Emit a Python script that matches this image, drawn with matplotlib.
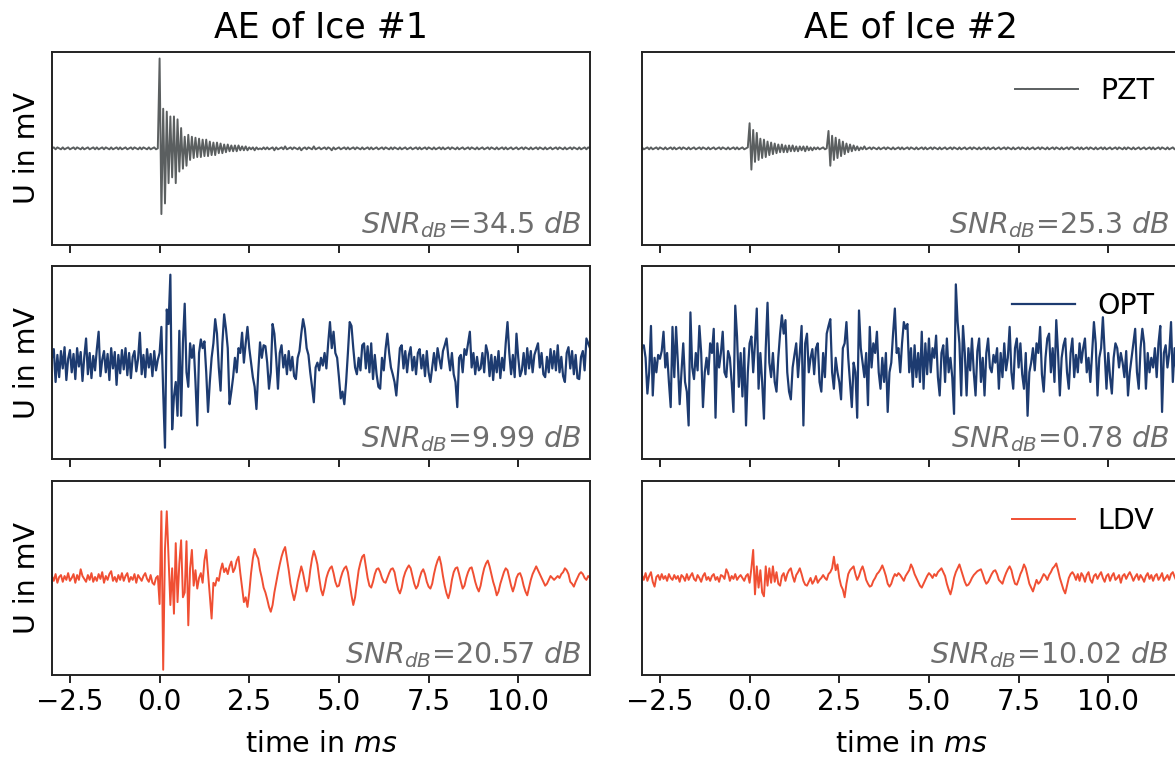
#!/usr/bin/env python3
"""
AE of two ice samples seen by three sensors (PZT, optical, LDV).
Traces are read off the published figure on a 0.05 ms grid, in units of
percent of the half panel height.
"""
import numpy as np
import matplotlib
matplotlib.use("Agg")
import matplotlib.pyplot as plt

T0, DT = -3.0, 0.05          # sampling grid of the traces, ms

PZT_C = "#5b5f60"
OPT_C = "#1d3b70"
LDV_C = "#f04f33"
GREY = "#6e6e6e"
INK = "#222222"

TITLES = ["AE of Ice #1", "AE of Ice #2"]
SENSORS = ["PZT", "OPT", "LDV"]
SNR_ICE1 = ["34.5", "9.99", "20.57"]
SNR_ICE2 = ["25.3", "0.78", "10.02"]

PZT_ICE1 = [
    0, 1, -1, 1, 0, -1, 1, -1, 0, 1, -1, 0, 1, -1, 1, 0, -1, 1, -1, 0,
    1, -1, 0, 1, -1, 1, -1, 0, 1, -1, 1, 0, -1, 1, -1, 0, 1, -1, 1, -1,
    0, 1, -1, 0, 1, -1, 1, 0, -1, 1, -1, 1, 0, -1, 1, -1, 0, 1, -1, 0,
    93, -68, 41, -57, 38, -36, 33, -30, 33, -36, 30, -24, 21, -21, 12, -18, 14, -12, 12, -10,
    11, -9, 10, -9, 9, -8, 9, -8, 7, -7, 6, -7, 6, -5, 5, -5, 4, -4, 4, -3,
    3, -3, 3, -3, 3, -2, 2, -2, 2, -2, 1, -1, 1, -2, 1, -1, 0, -1, 1, -1,
    1, -1, 0, 1, -2, 1, -1, 0, 1, -1, 2, -1, 0, 1, -1, 1, 0, -1, 1, -2,
    0, 1, -1, 1, 0, -1, 2, -1, 0, 1, -1, 0, 1, -1, 1, 0, -2, 1, -1, 0,
    1, -1, 0, 1, -1, 1, -1, 0, 1, -1, 1, 0, -1, 1, -1, 0, 1, -1, 1, -1,
    0, 1, -1, 0, 1, -1, 1, 0, -1, 1, -1, 1, 0, -1, 1, -1, 0, 1, -1, 0,
    1, -1, 0, 1, -1, 1, -1, 0, 1, -1, 1, 0, -1, 1, -1, 0, 1, -1, 1, -1,
    0, 1, -1, 1, 0, -1, 1, -1, 0, 1, -1, 0, 1, -1, 1, 0, -1, 1, -1, 0,
    1, -1, 0, 1, -1, 1, 0, -1, 1, -1, 0, 1, -1, 1, -1, 0, 1, -1, 0, 1,
    -1, 0, 1, -1, 1, 0, -1, 1, -1, 0, 1, -1, 1, 0, -1, 1, -1, 0, 1, -1,
    0, 1, -1, 1, 0, -1, 1, -1, 0, 1, -1, 1, 0, -1, 1, -1, 0, 1, -1, 1,
    0,
]

OPT_ICE1 = [
    5, 14, -20, 8, -15, 12, -6, 16, -18, 4, 13, -10, 9, -17, 15, -4, 11, -19, 6, 25,
    -12, 10, -16, 7, -8, 14, 32, -14, 3, 12, -10, 9, -18, 15, -6, 11, -23, 8, -11, 13,
    -7, 15, -13, 10, -16, 6, 12, -9, 4, 31, -12, 8, -15, 14, -5, 9, -14, 12, -8, 3,
    10, 37, -30, -88, 55, 40, 91, -69, -35, -20, -55, 33, -55, 20, 61, -10, -25, 20, 5, 18,
    -20, -65, 10, 24, 15, 22, -10, -51, -20, 5, 20, 45, 30, -5, -29, 20, 50, 35, 15, -43,
    -30, -15, 5, -10, 15, 10, 31, 0, 20, 37, 15, 0, -15, -25, -48, -10, 21, 5, 18, 17,
    0, -27, -10, 40, 30, 5, -27, 10, 18, -5, 8, -12, 12, -8, 6, -14, -17, 5, 12, 30,
    45, 35, 15, 8, -10, -25, -41, -5, 0, -8, 5, -3, 10, -6, 20, 42, 15, 32, 10, 5,
    -15, -37, -30, -43, -20, 10, 42, 38, 15, -5, -12, 5, -8, 18, 20, -6, 17, -10, 20, -17,
    8, -12, -25, -27, 5, -8, 14, 30, 10, -5, -12, -20, -34, -10, 15, 18, -6, 12, -10, 8,
    16, -8, 6, -12, 10, 14, -6, 8, -14, 12, -10, -20, -5, 10, -8, 15, 4, -6, 12, 18,
    25, 6, -8, 10, -12, -20, -46, 5, 8, -10, 14, 8, 20, 32, -5, 10, -12, 6, -8, -6,
    10, -10, 18, 10, -14, 8, -18, 6, -10, 12, -16, 5, -8, 20, 42, 10, -12, 8, -15, 30,
    5, -14, -8, 10, -12, 15, -6, 12, -10, 8, 14, 20, -5, 10, -12, -15, 6, -10, 14, -6,
    12, -8, 18, -10, 6, -14, -20, 10, 16, -6, 12, -12, 8, -16, -17, 6, 12, -8, 25, 20,
    15,
]

LDV_ICE1 = [
    2, -3, 4, -5, 1, 3, -4, 2, -2, 5, -3, 0, 4, -5, 3, -2, 9, 2, -1, -4,
    3, -2, 5, -4, 1, -3, 4, -1, 6, -5, 2, -2, 4, 7, -3, 1, -4, 3, -2, 5,
    -3, 2, 5, -4, 1, -2, 4, -5, 3, 0, -3, 2, 5, -1, -4, 3, -5, -7, 0, 2,
    -27, 69, -95, 30, 69, 20, -28, 10, -37, 36, -25, 15, 39, -20, -15, 38, -49, 10, 29, -8,
    8, -11, 0, 5, -5, 18, 29, 5, -18, -42, -5, -8, 0, -3, 8, 15, 6, 10, 4, 12,
    17, 6, 10, 18, 22, 5, -10, -25, -20, -30, -15, 5, 20, 30, 24, 20, 8, 0, -10, -15,
    -22, -30, -35, -28, -15, -5, 5, 14, 22, 28, 32, 20, 8, -6, -15, -23, -15, -4, 4, 12,
    5, -5, -14, -8, 8, 20, 28, 22, 14, 0, -12, -18, -10, 0, 6, 10, 12, 5, -4, -9,
    -8, 0, 6, 10, 12, 6, -6, -18, -28, -20, -6, 8, 16, 22, 24, 12, 0, -8, -10, -4,
    4, 9, 10, 6, 0, -4, -5, 0, 5, 9, 10, 6, -4, -12, -16, -10, 0, 6, 10, 13,
    10, 2, -6, -11, -8, 0, 6, 9, 4, -4, -9, -11, -6, 4, 12, 18, 22, 14, 2, -8,
    -16, -21, -14, -2, 6, 10, 11, 4, -4, -11, -8, 0, 6, 10, 11, 4, -4, -10, -14, -8,
    2, 10, 15, 18, 12, 4, -4, -10, -18, -14, -6, 0, 6, 10, 8, 0, -8, -14, -8, 0,
    4, 5, 0, -8, -14, -18, -10, -2, 4, 8, 12, 8, 4, 0, -4, -8, -6, -2, 2, 0,
    -2, 0, 2, 0, 4, 6, 10, 8, 4, -4, -6, -9, -4, 0, 4, 6, 4, 0, -2, 2,
    0,
]

PZT_ICE2 = [
    1, -1, 0, 1, -1, 1, -1, 0, 1, -1, 1, 0, -1, 1, -1, 0, 1, -1, 1, -1,
    0, 1, -1, 1, 0, -1, 1, -1, 0, 1, -1, 0, 1, -1, 1, 0, -1, 1, -1, 0,
    1, -1, 0, 1, -1, 1, 0, -1, 1, -1, 0, 1, -1, 1, -1, 0, 1, -1, 0, 1,
    26, -22, 19, -14, 16, -12, 10, -10, 9, -9, 7, -7, 6, -6, 5, -5, 4, -4, 4, -4,
    3, -4, 3, -3, 3, -3, 2, -3, 2, -2, 2, -3, 2, -2, 1, -2, 1, -1, 1, -1,
    0, 1, -1, 0, 18, -18, 13, -12, 11, -10, 9, -8, 7, -6, 5, -4, 4, -3, 3, -2,
    2, -2, 1, -1, 2, -1, 0, 1, -1, 1, 0, -1, 1, -1, 0, 1, -1, 1, 0, -1,
    1, -1, 0, 1, -1, 1, -1, 0, 1, -1, 1, 0, -1, 1, -1, 0, 1, -1, 1, -1,
    0, 1, -1, 1, 0, -1, 1, -1, 0, 1, -1, 0, 1, -1, 1, 0, -1, 1, -1, 0,
    1, -1, 0, 1, -1, 1, 0, -1, 1, -1, 0, 1, -1, 1, -1, 0, 1, -1, 0, 1,
    -1, 0, 1, -1, 1, 0, -1, 1, -1, 0, 1, -1, 1, 0, -1, 1, -1, 0, 1, -1,
    0, 1, -1, 1, 0, -1, 1, -1, 0, 1, -1, 1, 0, -1, 1, -1, 0, 1, -1, 1,
    1, -1, 0, 1, -1, 1, -1, 0, 1, -1, 1, 0, -1, 1, -1, 0, 1, -1, 1, -1,
    0, 1, -1, 0, 1, -1, 1, 0, -1, 1, -1, 1, 0, -1, 1, -1, 0, 1, -1, 0,
    1, -1, 0, 1, -1, 1, -1, 0, 1, -1, 1, 0, -1, 1, -1, 0, 1, -1, 1, -1,
    0,
]

OPT_ICE2 = [
    15, 18, 5, -32, -10, 38, -34, 5, -10, 8, 4, 12, 32, -5, 10, -20, -46, 37, -15, 37,
    0, -43, -10, 20, -20, -30, -65, 52, -5, -17, 10, -8, 38, 10, -46, -10, 5, -12, 20, 10,
    35, -57, 20, -5, 10, 32, -10, -15, 12, 5, -20, -51, 59, 27, -25, 10, -35, 15, -65, -10,
    20, 27, -10, 20, 56, -27, 10, -20, -58, 15, 62, 0, -15, 10, -20, -30, 5, 30, 49, 30,
    44, -10, -30, -38, -5, 8, 20, -15, 10, 38, -65, 20, 30, -10, 5, 14, -12, 15, 20, -20,
    -30, 10, -15, 30, 38, 45, -10, -27, 5, -10, -20, -38, 15, 20, 42, 5, -20, -46, 0, -10,
    -57, 54, 15, 0, -15, 10, -44, 37, -5, 20, 10, 32, -10, -27, 5, -20, 10, -51, -10, 0,
    30, 56, 10, 15, -10, 20, 42, 35, 40, -10, 15, -25, 18, -15, 10, -20, 32, -27, 20, -12,
    25, -10, 15, 5, 28, -15, -34, 10, 18, -20, 25, -10, 5, -15, -53, 81, 42, 20, -34, 38,
    10, -34, 15, -8, 25, -10, -34, 12, 25, -20, 5, -34, 10, 25, -5, -10, 8, 0, 15, -27,
    10, -15, 20, -8, 5, 37, -10, -27, 15, 25, -5, 20, -12, -27, 10, -55, -10, 0, 15, -8,
    20, 10, 37, -12, -30, 5, 25, 30, -10, 15, -20, 44, 10, -34, 5, 18, 25, -10, -27, 10,
    25, -15, 8, -10, 20, 0, 15, 25, -10, 5, -20, 10, 42, 20, -34, 5, 15, 47, 10, -27,
    10, -15, -32, 5, 20, 15, -5, 10, 0, -15, 12, -34, -10, 5, 20, 35, -10, -27, 15, 35,
    20, -27, 10, -10, 5, -5, 15, -15, 20, 38, -51, 10, 18, -5, 10, 42, -20, 15, -10, 20,
    5,
]

LDV_ICE2 = [
    3, -2, 5, -3, 2, 6, -4, -9, 1, 3, -2, 4, -1, 2, -3, 4, 0, -2, 3, -1,
    2, -4, 3, 1, -3, 4, -2, 2, 5, -1, -3, 3, 0, -4, 2, 5, -2, 1, -3, 2,
    4, -2, 1, -4, 3, 2, -1, 9, 5, -3, 2, -1, 4, -2, 1, 3, 0, -3, 2, 4,
    -5, 10, 29, -17, 12, -10, 8, -15, -19, 12, -8, 10, -5, 12, -4, 6, -6, -8, 2, 5,
    -3, 4, 8, 10, 2, -4, 3, 6, 10, 4, -3, -7, -8, -4, 0, -6, -3, 2, -5, -2,
    0, 3, 0, -2, 4, 6, 10, 22, 8, 14, 0, -8, -12, -20, -6, 4, 8, 10, 12, 4,
    -2, 2, 8, 12, 6, -2, -6, -9, -8, -3, 0, 4, 6, 9, 13, 8, 2, -6, -9, -6,
    0, 4, 2, 5, 3, 0, -3, 2, 5, 8, 14, 10, 4, 0, -4, -8, -10, -6, -2, 2,
    5, 3, 0, 4, 2, 6, 8, 10, 6, 2, -6, -12, -17, -10, 0, 6, 10, 14, 8, 2,
    -4, -8, -7, -4, 0, 3, 5, 7, 8, 9, 4, -2, -6, -4, 0, 4, 7, 8, 4, -2,
    -4, -6, 0, 5, 9, 12, 8, 0, -6, -7, -2, 4, 8, 14, 10, 2, -6, -10, -14, -8,
    -2, -6, -4, 0, 4, 2, -2, 3, 6, 10, 12, 15, 8, 0, -6, -12, -16, -8, 0, 4,
    6, 3, -2, 4, -3, 5, 2, -4, 3, 6, -2, -5, 2, 4, -1, 3, 6, 0, -4, 2,
    4, -3, 2, 5, -2, 0, 3, -5, 2, 4, -1, 3, 6, 2, -3, 1, 4, -2, 3, 0,
    -4, 2, 5, -1, 3, -3, 2, 4, -2, 1, 5, -3, 0, 3, -2, 4, 6, 1, -3, 2,
    0,
]

TRACES = [
    [PZT_ICE1, PZT_ICE2],
    [OPT_ICE1, OPT_ICE2],
    [LDV_ICE1, LDV_ICE2],
]
COLORS = [PZT_C, OPT_C, LDV_C]
WIDTHS = [1.4, 1.6, 1.4]
SNRS = [SNR_ICE1, SNR_ICE2]

FS = 20.5
plt.rcParams.update({
    "font.size": FS,
    "axes.edgecolor": INK, "axes.linewidth": 1.4,
    "xtick.major.size": 6, "xtick.major.width": 1.4, "xtick.color": INK,
    "xtick.labelcolor": "black", "xtick.labelsize": 20,
})

W, H = 1175, 766
fig = plt.figure(figsize=(W / 100, H / 100), dpi=100)

# panel frames in pixels of the original figure (the right column runs
# slightly past the edge, as in the source)
LEFTS = [52, 642]
PANEL_W = 538
TOPS = [51.7, 266, 481.3]
PANEL_H = 193.3

for r in range(3):
    for c in range(2):
        ax = fig.add_axes([LEFTS[c] / W, 1 - (TOPS[r] + PANEL_H) / H,
                           PANEL_W / W, PANEL_H / H])
        u = np.asarray(TRACES[r][c], dtype=float)
        t = T0 + DT * np.arange(len(u))
        ax.plot(t, u, color=COLORS[r], lw=WIDTHS[r], label=SENSORS[r])
        ax.set_xlim(-3, 12)
        ax.set_ylim(-100, 100)
        ax.set_yticks([])
        ax.set_xticks([-2.5, 0, 2.5, 5, 7.5, 10])
        if r < 2:
            ax.tick_params(labelbottom=False)
        else:
            ax.set_xticklabels(["\u22122.5", "0.0", "2.5", "5.0", "7.5", "10.0"])
            ax.set_xlabel("time in $ms$", labelpad=10)
        if c == 0:
            ax.set_ylabel("U in mV", labelpad=8)
        else:
            ax.legend(loc="upper right", frameon=False, handlelength=2.2,
                      fontsize=FS)
        if r == 0:
            ax.set_title(TITLES[c], fontsize=25, pad=10)
        ax.text(0.985 if c == 0 else 0.98, 0.025,
                "$SNR_{dB}$=" + SNRS[c][r] + " $dB$",
                transform=ax.transAxes, ha="right", va="bottom",
                color=GREY, fontsize=FS)

fig.savefig("out.png", dpi=100)
